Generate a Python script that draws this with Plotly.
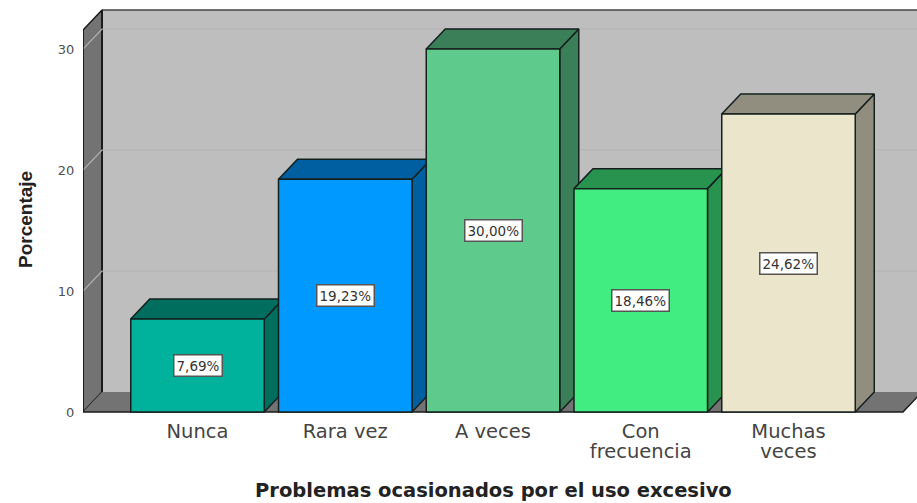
import plotly.graph_objects as go

labels_line1 = ["Nunca", "Rara vez", "A veces", "Con", "Muchas"]
labels_line2 = ["", "", "", "frecuencia", "veces"]
values = [7.69, 19.23, 30.00, 18.46, 24.62]
front_colors = ["#00B29B", "#0099FF", "#5ECB8C", "#41EC80", "#EBE5CC"]
side_colors = ["#006E5F", "#005FA0", "#3A7F57", "#28934F", "#928E7F"]
y_ticks = [0, 10, 20, 30]

W, H = 917, 503
PX_X, PX_Y = 147.75, 12.1
L, T, B = 83, 8, 89
DX, DY = 19 / PX_X, 20 / PX_Y
BAR_W = 133.5 / PX_X
X0 = (L - 197.5) / PX_X
X1 = (W - 197.5) / PX_X
Y0 = -2 / PX_Y
Y1 = (412 - T) / PX_Y
WALL_TOP = (412 - 10) / PX_Y - DY
FLOOR_R = (903 - 197.5) / PX_X
EDGE = "#14201E"
idx = list(range(len(values)))
CLEAR = "rgba(0,0,0,0)"

fig = go.Figure()


def poly(xs, ys, fill, line=EDGE, lw=1.5):
    fig.add_trace(go.Scatter(x=xs, y=ys, mode="lines", fill="toself", fillcolor=fill,
                             line=dict(color=line, width=lw), hoverinfo="skip", showlegend=False))


def seg(xs, ys, color, lw=1.5):
    fig.add_trace(go.Scatter(x=xs, y=ys, mode="lines", line=dict(color=color, width=lw),
                             hoverinfo="skip", showlegend=False))


# walls and floor
back_l = X0 + DX
poly([back_l, X1 + 1, X1 + 1, back_l, back_l], [DY, DY, WALL_TOP + DY, WALL_TOP + DY, DY], "#BEBEBE", "#BEBEBE", 0)
poly([X0, back_l, back_l, X0, X0], [0, DY, WALL_TOP + DY, WALL_TOP, 0], "#737373", "#1A1A1A", 1.5)
poly([X0, back_l, FLOOR_R + DX, FLOOR_R, X0], [0, DY, DY, 0, 0], "#737373", "#737373", 0)
seg([back_l, X1], [WALL_TOP + DY, WALL_TOP + DY], "#444444", 1.5)
seg([back_l, back_l], [DY, WALL_TOP + DY], "#1A1A1A", 2)
seg([X0, FLOOR_R, FLOOR_R + DX], [0, 0, DY], "#1A1A1A", 1.5)
for t in y_ticks[1:]:
    seg([X0, back_l, X1], [t, t + DY, t + DY], "#B2B2B2", 1.2)
seg([X0, X0], [0, WALL_TOP], "#1A1A1A", 1.5)

# bar depth faces
for i, v, c in zip(idx, values, side_colors):
    r = i + BAR_W / 2
    l = i - BAR_W / 2
    poly([r, r + DX, r + DX, r, r], [0, DY, v + DY, v, 0], c)
    poly([l, l + DX, r + DX, r, l], [v, v + DY, v + DY, v, v], c)

# bar front faces, on an overlaid axis pair so they cover the depth faces
fig.add_trace(go.Bar(x=idx, y=values, width=BAR_W, xaxis="x2", yaxis="y2", showlegend=False,
                     marker=dict(color=front_colors, line=dict(color=EDGE, width=1.5))))

for i, v in zip(idx, values):
    fig.add_annotation(x=i, y=v / 2, xref="x2", yref="y2",
                       text=f"{v:.2f}%".replace(".", ","), showarrow=False,
                       font=dict(family="DejaVu Sans", size=13.5, color="#333333"),
                       bgcolor="white", bordercolor="#555555", borderwidth=1.5, borderpad=2)

PAPER_X = lambda px: (px - L) / (W - L)
PAPER_Y = lambda py: (H - B - py) / (H - B - T)
fig.add_annotation(x=PAPER_X(493.5), y=PAPER_Y(490), xref="paper", yref="paper", showarrow=False,
                   xanchor="center", yanchor="middle",
                   text="<b>Problemas ocasionados por el uso excesivo</b>",
                   font=dict(family="DejaVu Sans", size=19.5, color="#222222"))
fig.add_annotation(x=PAPER_X(25), y=PAPER_Y(220), xref="paper", yref="paper", showarrow=False, textangle=-90,
                   xanchor="center", yanchor="middle",
                   text="<b>Porcentaje</b>",
                   font=dict(family="Liberation Sans", size=19, color="#222222"))

fig.update_layout(
    width=W, height=H, margin=dict(l=L, r=0, t=T, b=B, autoexpand=False),
    paper_bgcolor="white", plot_bgcolor="white", showlegend=False,
    xaxis=dict(range=[X0, X1], tickmode="array", tickvals=idx, ticktext=labels_line1,
               showgrid=False, zeroline=False, showline=False, ticks="outside", ticklen=0, tickcolor=CLEAR,
               tickfont=dict(family="DejaVu Sans", size=19.5, color="#444444")),
    yaxis=dict(range=[Y0, Y1], tickmode="array", tickvals=y_ticks, ticktext=[str(t) for t in y_ticks],
               showgrid=False, zeroline=False, showline=False, ticks="outside", ticklen=5, tickcolor=CLEAR,
               tickfont=dict(family="DejaVu Sans", size=13, color="#505050")),
    xaxis2=dict(range=[X0, X1], overlaying="x", side="bottom", tickmode="array", tickvals=idx, ticktext=labels_line2,
                showgrid=False, zeroline=False, showline=False, ticks="outside", ticklen=20, tickcolor=CLEAR,
                tickfont=dict(family="DejaVu Sans", size=19.5, color="#444444")),
    yaxis2=dict(range=[Y0, Y1], overlaying="y", visible=False),
)
fig.write_html("out.html", config={"displayModeBar": False}, post_script="document.body.style.margin='0';")
